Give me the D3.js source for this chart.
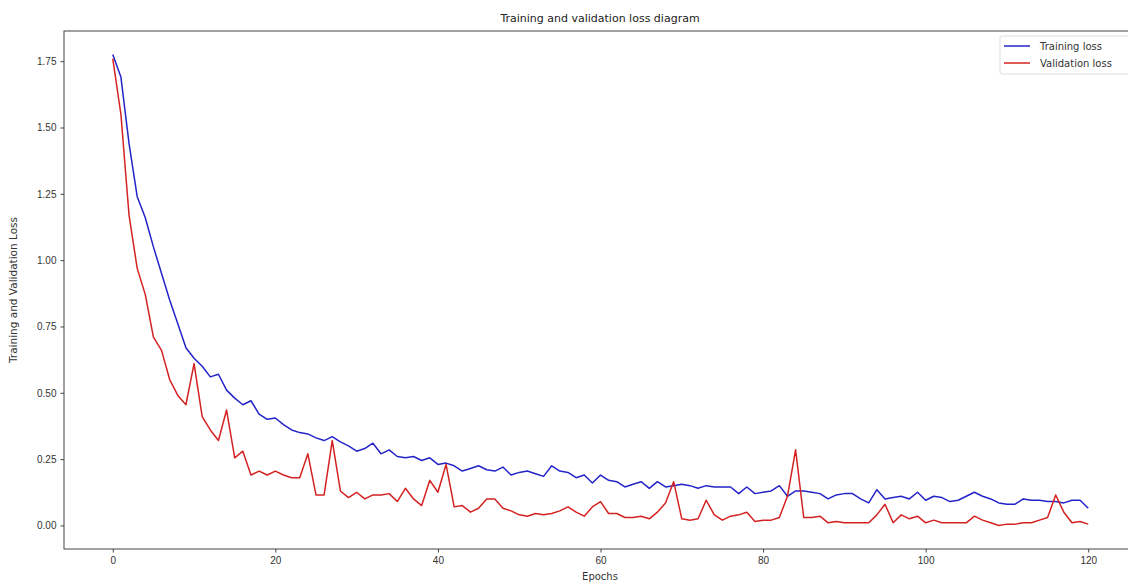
<!DOCTYPE html>
<html>
<head>
<meta charset="utf-8">
<script src="https://cdn.jsdelivr.net/npm/d3@7"></script>
<style>
    body { margin: 0; background: #fff; }
    svg { display: block; font-family: 'DejaVu Sans', sans-serif; }
    .axis text { fill: #333; font-size: 10px; }
    .axis path, .axis line { stroke: #444; }
</style>
</head>
<body>
<svg id="chart" width="1128" height="582"></svg>
<script>
// per epoch values
let epochs = d3.range( 0, 121 );
let trainingLoss = [
    1.775, 1.69, 1.44, 1.24, 1.16, 1.05, 0.95, 0.85, 0.76, 0.67,
    0.63, 0.60, 0.56, 0.57, 0.51, 0.48, 0.455, 0.47, 0.42, 0.40,
    0.405, 0.38, 0.36, 0.35, 0.345, 0.33, 0.32, 0.335, 0.315, 0.30,
    0.28, 0.29, 0.31, 0.27, 0.285, 0.26, 0.255, 0.26, 0.245, 0.255,
    0.23, 0.235, 0.225, 0.205, 0.215, 0.225, 0.21, 0.205, 0.22, 0.19,
    0.20, 0.205, 0.195, 0.185, 0.225, 0.205, 0.20, 0.18, 0.19, 0.16,
    0.19, 0.17, 0.165, 0.145, 0.155, 0.165, 0.14, 0.165, 0.145, 0.15,
    0.155, 0.15, 0.14, 0.15, 0.145, 0.145, 0.145, 0.12, 0.145, 0.12,
    0.125, 0.13, 0.15, 0.11, 0.13, 0.13, 0.125, 0.12, 0.10, 0.115,
    0.12, 0.12, 0.10, 0.085, 0.135, 0.10, 0.105, 0.11, 0.10, 0.125,
    0.095, 0.11, 0.105, 0.09, 0.095, 0.11, 0.125, 0.11, 0.10, 0.085,
    0.08, 0.08, 0.10, 0.095, 0.095, 0.09, 0.09, 0.085, 0.095, 0.095,
    0.065
];
let validationLoss = [
    1.76, 1.55, 1.17, 0.97, 0.87, 0.71, 0.66, 0.55, 0.49, 0.455,
    0.61, 0.41, 0.36, 0.32, 0.435, 0.255, 0.28, 0.19, 0.205, 0.19,
    0.205, 0.19, 0.18, 0.18, 0.27, 0.115, 0.115, 0.32, 0.13, 0.105,
    0.125, 0.10, 0.115, 0.115, 0.12, 0.09, 0.14, 0.10, 0.075, 0.17,
    0.125, 0.23, 0.07, 0.075, 0.05, 0.065, 0.10, 0.10, 0.065, 0.055,
    0.04, 0.035, 0.045, 0.04, 0.045, 0.055, 0.07, 0.05, 0.035, 0.07,
    0.09, 0.045, 0.045, 0.03, 0.03, 0.035, 0.025, 0.05, 0.085, 0.165,
    0.025, 0.02, 0.025, 0.095, 0.04, 0.02, 0.035, 0.04, 0.05, 0.015,
    0.02, 0.02, 0.03, 0.11, 0.285, 0.03, 0.03, 0.035, 0.01, 0.015,
    0.01, 0.01, 0.01, 0.01, 0.04, 0.08, 0.01, 0.04, 0.025, 0.035,
    0.01, 0.02, 0.01, 0.01, 0.01, 0.01, 0.035, 0.02, 0.01, 0.0,
    0.005, 0.005, 0.01, 0.01, 0.02, 0.03, 0.115, 0.05, 0.01, 0.015,
    0.005
];
let xTicks = [ 0, 20, 40, 60, 80, 100, 120 ];
let yTicks = [ 0.00, 0.25, 0.50, 0.75, 1.00, 1.25, 1.50, 1.75 ];
let seriesNames = [ 'Training loss', 'Validation loss' ];
let seriesColors = [ '#2424c8', '#d42222' ];

let svg = d3.select( '#chart' );

// axes box, the right side runs a little past the window like the original
let margin = { left: 64, top: 31 };
let width = 1073, height = 518;

let g = svg.append( 'g' )
    .attr( 'transform', 'translate(' + margin.left + ',' + margin.top + ')' );

// matplotlib style 5% padding round the data
let xPad = 0.05 * ( d3.max( epochs ) - d3.min( epochs ) );
let x = d3.scaleLinear()
    .domain( [ d3.min( epochs ) - xPad, d3.max( epochs ) + xPad ] )
    .range( [ 0, width ] );

let allValues = trainingLoss.concat( validationLoss );
let yMin = d3.min( allValues ), yMax = d3.max( allValues );
let yPad = 0.05 * ( yMax - yMin );
let y = d3.scaleLinear()
    .domain( [ yMin - yPad, yMax + yPad ] )
    .range( [ height, 0 ] );

let line = function( values ) {
    return d3.line()
        .x( function(d, i) { return x( epochs[i] ); } )
        .y( function(d) { return y( d ); } )( values );
};

[ trainingLoss, validationLoss ].forEach( function( values, i ) {
    g.append( 'path' )
        .attr( 'd', line( values ) )
        .attr( 'fill', 'none' )
        .attr( 'stroke', seriesColors[i] )
        .attr( 'stroke-width', 1.5 )
        .attr( 'stroke-linejoin', 'round' );
});

// frame
g.append( 'rect' )
    .attr( 'width', width )
    .attr( 'height', height )
    .attr( 'fill', 'none' )
    .attr( 'stroke', '#444' )
    .attr( 'stroke-width', 1 );

let xAxis = g.append( 'g' )
    .attr( 'class', 'axis' )
    .attr( 'transform', 'translate(0,' + height + ')' )
    .call( d3.axisBottom( x ).tickValues( xTicks ).tickSize( 3.5 ).tickPadding( 4 ).tickFormat( d3.format( 'd' ) ) );
xAxis.select( '.domain' ).remove();

let yAxis = g.append( 'g' )
    .attr( 'class', 'axis' )
    .call( d3.axisLeft( y ).tickValues( yTicks ).tickSize( 3.5 ).tickPadding( 4 ).tickFormat( d3.format( '.2f' ) ) );
yAxis.select( '.domain' ).remove();

// texts
svg.append( 'text' )
    .attr( 'x', 600 )
    .attr( 'y', 22 )
    .attr( 'text-anchor', 'middle' )
    .style( 'font-size', '11px' )
    .style( 'fill', '#222' )
    .text( 'Training and validation loss diagram' );

svg.append( 'text' )
    .attr( 'x', 600 )
    .attr( 'y', 580 )
    .attr( 'text-anchor', 'middle' )
    .style( 'font-size', '10px' )
    .style( 'fill', '#333' )
    .text( 'Epochs' );

svg.append( 'text' )
    .attr( 'transform', 'translate(17,' + ( margin.top + height / 2 ) + ')rotate(-90)' )
    .attr( 'text-anchor', 'middle' )
    .style( 'font-size', '10.5px' )
    .style( 'fill', '#333' )
    .text( 'Training and Validation Loss' );

// legend, top right inside the axes
let legend = svg.append( 'g' )
    .attr( 'transform', 'translate(1000,36)' );
legend.append( 'rect' )
    .attr( 'width', 135 )
    .attr( 'height', 38 )
    .attr( 'rx', 2 )
    .attr( 'fill', '#fff' )
    .attr( 'fill-opacity', 0.8 )
    .attr( 'stroke', '#ddd' );
seriesNames.forEach( function( name, i ) {
    let row = legend.append( 'g' )
        .attr( 'transform', 'translate(0,' + ( 10 + i * 17 ) + ')' );
    row.append( 'line' )
        .attr( 'x1', 4 ).attr( 'x2', 30 )
        .attr( 'stroke', seriesColors[i] )
        .attr( 'stroke-width', 1.5 );
    row.append( 'text' )
        .attr( 'x', 40 )
        .attr( 'dy', '0.35em' )
        .style( 'font-size', '10px' )
        .style( 'fill', '#333' )
        .text( name );
});
</script>
</body>
</html>
